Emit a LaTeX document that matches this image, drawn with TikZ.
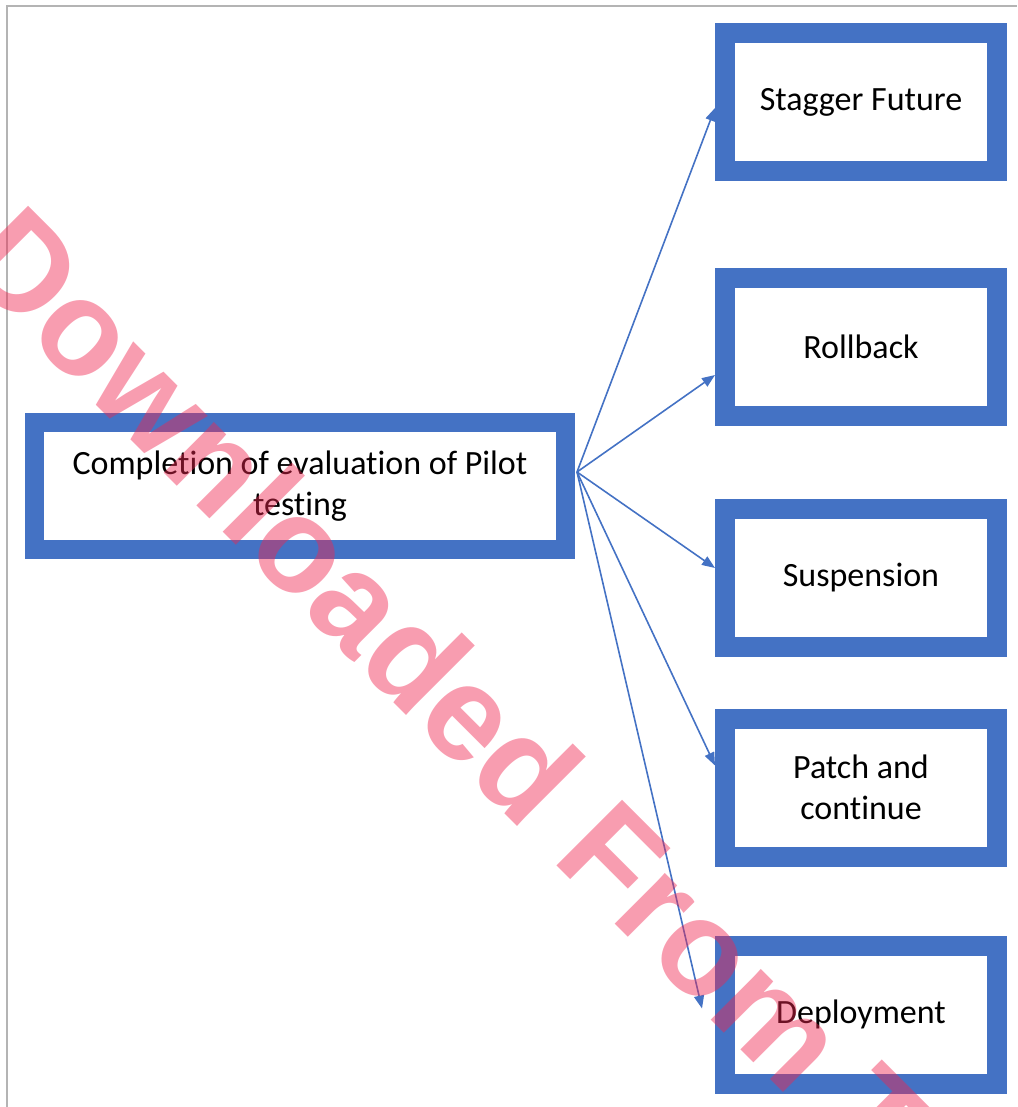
\documentclass[tikz,border=0pt]{standalone}
\usepackage{xcolor}
\usepackage{fontspec}
\setmainfont{Carlito}[Ligatures=NoCommon]
\newfontfamily\markfont{Liberation Sans}
\usepackage{tikz}
\usetikzlibrary{arrows.meta}
\definecolor{boxblue}{HTML}{4472C4}
\definecolor{framegray}{HTML}{B4B4B4}
\definecolor{wmpink}{HTML}{F02650}
\tikzset{
  StartBox/.style={
    draw=boxblue, line width=9.5pt, fill=white,
    minimum width=265.5pt, minimum height=63.5pt,
    inner sep=0pt, align=center,
    font=\fontsize{17pt}{20.5pt}\selectfont
  },
  OptionBox/.style={
    draw=boxblue, line width=10pt, fill=white,
    minimum width=136pt, minimum height=69pt,
    inner sep=0pt, align=center,
    font=\fontsize{17pt}{20.5pt}\selectfont
  },
  FlowArrow/.style={
    draw=boxblue, line width=0.8pt,
    -{Triangle[length=6.5pt,width=5pt]}
  },
  WaterMark/.style={
    text=wmpink, text opacity=0.45, inner sep=0pt,
    rotate=-45, anchor=base west,
    font=\markfont\bfseries\fontsize{67.5pt}{70pt}\selectfont
  }
}

\begin{document}
\begin{tikzpicture}[x=0.5pt, y=-0.5pt, line cap=butt, line join=miter]
  \useasboundingbox (0,0) rectangle (1017,1107);
  \clip (0,0) rectangle (1017,1107);

  % page frame
  \draw[framegray, line width=1pt] (7,1107) -- (7,6) -- (1017,6);

  % boxes
  \node[StartBox] (P) at (300,486) {Completion of evaluation of Pilot\\testing};
  \node[OptionBox] (SF) at (861,102) {Stagger Future};
  \node[OptionBox] (RB) at (861,347) {Rollback};
  \node[OptionBox] (SU) at (861,578) {Suspension};
  \node[OptionBox] (PC) at (861,787.5) {Patch and\\continue};
  \node[OptionBox] (DE) at (861,1014.5) {Deployment};

  % fan of arrows
  \coordinate (H) at ([xshift=1pt, yshift=7pt]P.east);
  \draw[FlowArrow] (H) -- ([yshift=-3pt]SF.west);
  \draw[FlowArrow] (H) -- ([yshift=-14pt]RB.west);
  \draw[FlowArrow] (H) -- ([yshift=5pt]SU.west);
  \draw[FlowArrow] (H) -- ([yshift=11pt]PC.west);
  \draw[FlowArrow] (H) -- ([xshift=-6.5pt, yshift=3pt]DE.west);

  % watermark
  \node[WaterMark] (W) at (-44,265) {Downloaded From T};
\end{tikzpicture}
\end{document}
